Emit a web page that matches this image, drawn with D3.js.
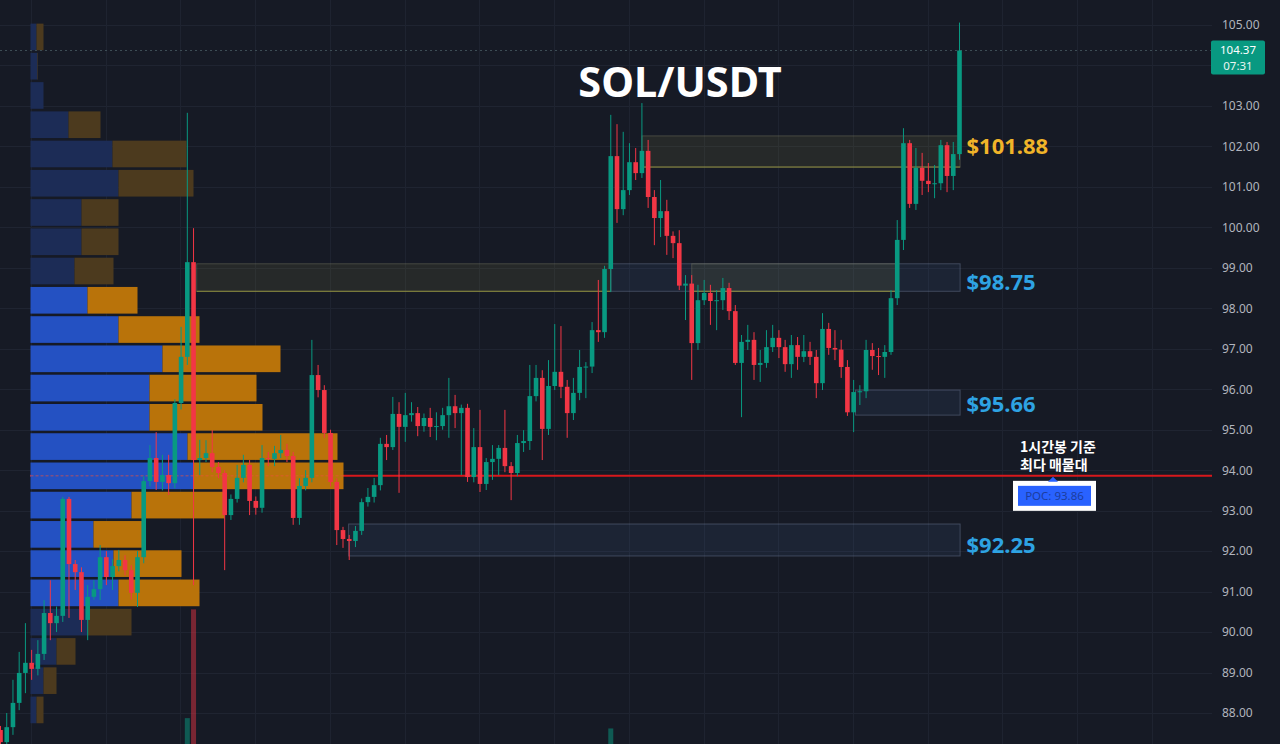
<!DOCTYPE html>
<html><head><meta charset="utf-8">
<script src="https://cdn.jsdelivr.net/npm/d3@7"></script>
<style>html,body{margin:0;padding:0;background:#161a25;overflow:hidden}svg{display:block}</style>
</head><body><svg id="c" width="1280" height="744"></svg>
<script>
// ---------- DATA ----------
const title = "SOL/USDT";
const opens = [87.58,87.28,87.65,88.25,88.99,89.24,89.09,89.46,90.47,90.22,90.40,93.29,91.68,91.48,90.30,90.87,91.06,91.85,91.36,91.63,91.78,91.53,90.97,91.85,93.73,94.30,93.71,93.88,93.68,95.66,96.80,99.14,94.25,94.30,94.42,94.08,93.93,92.89,93.29,93.81,94.13,93.24,93.07,94.30,94.28,94.42,94.50,94.35,92.82,93.61,93.81,96.35,95.98,94.92,93.71,92.52,92.30,92.25,92.50,93.21,93.34,93.63,94.65,94.57,95.39,95.07,95.36,95.41,95.09,95.29,95.07,95.09,95.36,95.58,95.41,95.54,93.83,94.57,93.66,94.20,94.28,94.55,94.10,93.93,94.67,94.72,95.83,96.28,95.02,96.08,96.43,96.06,95.41,95.91,96.55,96.56,97.46,97.41,98.97,101.76,100.45,100.92,101.61,101.34,101.89,100.75,100.23,100.40,99.79,99.61,98.56,98.61,97.14,98.20,98.38,98.18,98.20,98.50,97.93,96.65,97.17,97.22,96.60,96.65,97.04,97.27,97.04,96.62,97.09,96.80,96.94,96.80,96.15,97.49,97.02,96.98,96.55,95.43,95.93,95.95,96.97,96.82,96.80,96.92,98.25,99.69,102.08,100.58,101.47,101.15,101.07,101.09,102.03,101.27,101.81];
const highs = [87.68,88.00,88.82,89.51,90.22,89.56,89.80,90.79,91.28,90.63,93.34,93.34,91.78,91.60,91.16,91.28,92.15,92.00,91.80,92.03,91.90,91.65,92.00,93.85,94.62,94.94,94.38,94.38,95.75,97.54,102.83,99.98,94.75,94.74,94.99,94.20,94.00,93.40,94.13,94.38,94.25,93.35,94.62,94.45,94.60,94.87,94.65,94.45,93.80,94.00,97.22,96.60,96.10,95.00,93.80,92.60,92.40,92.62,93.30,93.56,93.81,94.80,94.87,95.81,95.68,95.91,95.68,95.56,95.40,95.54,95.43,95.54,96.28,95.86,95.62,95.64,95.04,95.49,94.30,94.62,94.62,95.49,94.20,94.87,94.99,96.60,96.60,96.47,96.72,97.61,97.56,96.23,96.28,96.97,96.67,97.66,98.70,99.05,102.78,102.55,102.36,102.08,101.96,103.07,102.16,100.92,101.17,100.68,99.90,99.93,98.82,98.82,98.58,98.70,98.58,98.45,98.75,98.63,98.08,97.34,97.59,97.41,96.97,97.46,97.59,97.46,97.22,97.34,97.29,97.34,97.17,96.97,97.88,97.64,97.46,97.22,96.72,96.23,96.10,97.22,97.14,97.02,97.09,98.45,100.18,102.45,102.16,101.96,101.84,101.59,101.54,102.16,102.11,102.11,105.06];
const lows = [87.23,87.20,87.46,88.07,88.49,88.82,88.93,89.31,89.80,90.00,90.25,90.35,91.04,90.00,89.80,90.80,90.79,91.16,91.04,91.50,91.40,90.80,90.62,91.70,93.60,93.51,93.50,93.39,93.55,95.50,96.60,91.16,93.88,94.20,93.95,93.80,91.53,92.77,93.20,93.70,92.89,92.90,92.95,94.10,94.10,94.30,94.20,92.65,92.65,93.50,93.70,95.80,94.80,93.60,92.15,92.08,91.78,92.10,92.40,93.10,93.20,93.50,94.25,94.50,93.44,94.70,95.20,94.84,94.95,94.82,94.74,95.00,94.80,95.04,93.88,93.71,93.70,93.46,93.51,93.76,93.88,93.95,93.26,93.85,94.45,94.50,95.70,94.25,94.87,95.98,95.78,94.80,95.24,95.73,95.78,96.40,97.17,97.27,98.40,100.11,100.30,100.80,101.17,101.22,100.48,99.56,99.76,99.32,99.24,98.45,97.71,96.23,96.97,98.08,97.59,97.46,97.96,97.71,96.60,95.31,96.97,96.23,96.18,96.53,96.92,96.77,96.43,96.28,96.48,96.67,96.60,95.78,95.98,96.85,96.72,96.28,95.34,94.94,95.61,95.78,96.48,96.35,96.28,96.85,98.08,99.44,100.48,100.43,100.80,100.87,100.72,100.92,100.87,100.92,101.67];
const closes = [87.28,87.65,88.25,88.99,89.24,89.09,89.46,90.47,90.22,90.40,93.29,91.68,91.48,90.30,90.87,91.06,91.85,91.36,91.63,91.78,91.53,90.97,91.85,93.73,94.30,93.71,93.88,93.68,95.66,96.80,99.14,94.25,94.30,94.42,94.08,93.93,92.89,93.29,93.81,94.13,93.24,93.07,94.30,94.28,94.42,94.50,94.35,92.82,93.61,93.81,96.35,95.98,94.92,93.71,92.52,92.30,92.25,92.50,93.21,93.34,93.63,94.65,94.57,95.39,95.07,95.36,95.41,95.09,95.29,95.07,95.09,95.36,95.58,95.41,95.54,93.83,94.57,93.66,94.20,94.28,94.55,94.10,93.93,94.67,94.72,95.83,96.28,95.02,96.08,96.43,96.06,95.41,95.91,96.55,96.56,97.46,97.41,98.97,101.76,100.45,100.92,101.61,101.34,101.89,100.75,100.23,100.40,99.79,99.61,98.56,98.61,97.14,98.20,98.38,98.18,98.20,98.50,97.93,96.65,97.17,97.22,96.60,96.65,97.04,97.27,97.04,96.62,97.09,96.80,96.94,96.80,96.15,97.49,97.02,96.98,96.55,95.43,95.93,95.95,96.97,96.82,96.80,96.92,98.25,99.69,102.08,100.58,101.47,101.15,101.07,101.09,102.03,101.27,101.81,104.37];

// visible volume spikes (candle index, volume K) - others lie below the frame
const volIndex = [30, 31, 98];
const volValue = [34, 150, 23];

// volume profile (top row first)
const pocPrice = 93.86;
const binSize = 0.723;
const profileUp   = [6,7,13,38,82,88,51,51,44,57,88,132,119,119,157,163,101,63,83,88,57,26,13,6];
const profileDown = [7,0.5,0,32,74,75,37,37,39,50,81,118,107,113,150,150,93,49,68,81,44,19,13,7];
const valueAreaHigh = 98.6, valueAreaLow = 90.6;

// price ticks
const priceTicks = [88,89,90,91,92,93,94,95,96,97,98,99,100,101,102,103,104,105];
const lastPrice = 104.37, countdown = "07:31";

// zones: start/end candle index, top/bottom price, style
const zoneFrom  = [31.5, 98, 111, 103, 137.3, 55.9];
const zoneTo    = [98, 154.1, 144, 154.1, 154.1, 154.1];
const zoneTop   = [99.10, 99.10, 99.10, 102.26, 95.98, 92.67];
const zoneBot   = [98.42, 98.42, 98.42, 101.49, 95.36, 91.88];
const zoneKind  = ["olive","blue","olive","olive","blue","blue"];

const levelLabels = ["$101.88","$98.75","$95.66","$92.25"];
const levelPrice  = [102.03, 98.67, 95.66, 92.18];
const levelColor  = ["#f0b429","#2ea3e3","#2ea3e3","#2ea3e3"];

const noteLines = ["1시간봉 기준","최다 매물대"];
const pocLabel = "POC: 93.86";
const timeGrid = [4.9,16.9,28.9,40.9,52.9,64.9,76.9,88.9,100.9,112.9,124.9,136.9,148.9,160.9,172.9,184.9];

// ---------- CHART ----------
const svg = d3.select("#c");
const plotRight = 1212;
const y = d3.scaleLinear().domain([88,105]).range([713,25]);
const x = d3.scaleLinear().domain([0,154]).range([0.5,959.5]);
const bodyW = 4.6;

svg.append("rect").attr("width",1280).attr("height",744).attr("fill","#161a25");

// grid
const g = svg.append("g");
g.selectAll("line.h").data(priceTicks).join("line")
  .attr("x1",0).attr("x2",plotRight)
  .attr("y1",d=>Math.round(y(d))+0.5).attr("y2",d=>Math.round(y(d))+0.5)
  .attr("stroke","#1f2431").attr("stroke-width",1);
g.selectAll("line.v").data(timeGrid).join("line")
  .attr("x1",d=>Math.round(x(d))+0.5).attr("x2",d=>Math.round(x(d))+0.5)
  .attr("y1",0).attr("y2",744)
  .attr("stroke","#1e2330").attr("stroke-width",1);

// zones
const zones = zoneFrom.map((f,i)=>({f,t:zoneTo[i],top:zoneTop[i],bot:zoneBot[i],k:zoneKind[i]}));
const zg = svg.append("g");
zones.forEach(z=>{
  const x0=x(z.f), x1=x(z.t), y0=y(z.top), y1=y(z.bot);
  if(z.k==="olive"){
    zg.append("rect").attr("x",x0).attr("y",y0).attr("width",x1-x0).attr("height",y1-y0)
      .attr("fill","rgba(150,150,70,0.13)").attr("stroke","rgba(120,120,100,0.45)").attr("stroke-width",1);
    zg.append("line").attr("x1",x0).attr("x2",x1).attr("y1",y1).attr("y2",y1)
      .attr("stroke","#8a8a3c").attr("stroke-width",1);
  } else {
    zg.append("rect").attr("x",x0).attr("y",y0).attr("width",x1-x0).attr("height",y1-y0)
      .attr("fill","rgba(70,100,150,0.14)").attr("stroke","rgba(110,125,150,0.45)").attr("stroke-width",1);
  }
});

// POC line (under the profile)
svg.append("line").attr("x1",30).attr("x2",plotRight)
  .attr("y1",y(pocPrice)).attr("y2",y(pocPrice))
  .attr("stroke","#d8181c").attr("stroke-width",2);

// volume profile
const vx = d3.scaleLinear().domain([0,313]).range([0,313]);
const px0 = 30.5;
const rows = profileUp.map((u,i)=>{
  const c = pocPrice + (15-i)*binSize;
  return {u, d:profileDown[i], c, va: c<=valueAreaHigh && c>=valueAreaLow};
});
const pg = svg.append("g");
rows.forEach(r=>{
  const yt = y(r.c+binSize/2)+1.3, yb = y(r.c-binSize/2)-1.3;
  pg.append("rect").attr("x",px0).attr("y",yt).attr("width",vx(r.u)).attr("height",yb-yt)
    .attr("fill", r.va? "#2451c2":"#1c2c56");
  pg.append("rect").attr("x",px0+vx(r.u)).attr("y",yt).attr("width",vx(r.d)).attr("height",yb-yt)
    .attr("fill", r.va? "#b9730a":"#4c3a1e");
});
// faint POC line through profile
const pocRow = rows[15];
svg.append("line").attr("x1",px0).attr("x2",px0+vx(pocRow.u+pocRow.d))
  .attr("y1",y(pocPrice)).attr("y2",y(pocPrice))
  .attr("stroke","rgba(240,80,60,0.45)").attr("stroke-width",1.5).attr("stroke-dasharray","3,2");

// volume bars
const vy = d3.scaleLinear().domain([0,160]).range([750,600]);
svg.append("g").selectAll("rect").data(volIndex.map((i,k)=>({i,v:volValue[k]}))).join("rect")
  .attr("x",d=>x(d.i)-2.5).attr("width",5)
  .attr("y",d=>vy(d.v)).attr("height",d=>750-vy(d.v))
  .attr("fill",d=>closes[d.i]>=opens[d.i]?"rgba(8,153,129,0.5)":"rgba(242,54,69,0.45)");

// current price dotted line
svg.append("line").attr("x1",0).attr("x2",plotRight)
  .attr("y1",Math.round(y(lastPrice))+0.5).attr("y2",Math.round(y(lastPrice))+0.5)
  .attr("stroke","#3d4d55").attr("stroke-width",1).attr("stroke-dasharray","2,3");

// candles
const candles = opens.map((o,i)=>({i,o,h:highs[i],l:lows[i],c:closes[i]}));
const cg = svg.append("g");
const col = d=> d.c>=d.o ? "#089981" : "#f23645";
cg.selectAll("line").data(candles).join("line")
  .attr("x1",d=>x(d.i)).attr("x2",d=>x(d.i))
  .attr("y1",d=>y(d.h)).attr("y2",d=>y(d.l))
  .attr("stroke",col).attr("stroke-width",1);
cg.selectAll("rect").data(candles).join("rect")
  .attr("x",d=>x(d.i)-bodyW/2).attr("width",bodyW)
  .attr("y",d=>y(Math.max(d.o,d.c)))
  .attr("height",d=>Math.max(1,Math.abs(y(d.o)-y(d.c))))
  .attr("fill",col);

// level labels
svg.append("g").selectAll("text").data(levelLabels).join("text")
  .attr("x",x(154)+7).attr("y",(d,i)=>y(levelPrice[i]))
  .attr("dominant-baseline","central")
  .attr("font-family","'Noto Sans', 'Open Sans', sans-serif").attr("font-weight",700).attr("font-size",22)
  .attr("fill",(d,i)=>levelColor[i]).text(d=>d);

// price axis (the tick hidden under the last-price tag is not labelled)
const ly = y(lastPrice);
const shownTicks = priceTicks.filter(t => Math.abs(y(t) - (ly + 7)) > 22);
const axis = d3.axisRight(y).tickValues(shownTicks).tickFormat(d3.format(".2f")).tickSize(0).tickPadding(10);
const ag = svg.append("g").attr("transform",`translate(${plotRight},0)`).call(axis);
ag.select(".domain").remove();
ag.selectAll("text").attr("fill","#b2b5be").attr("font-size",12).attr("font-family","'Noto Sans', sans-serif");

// last price tag
svg.append("rect").attr("x",1211).attr("y",ly-10).attr("width",54).attr("height",34).attr("rx",2).attr("fill","#089981");
svg.append("text").attr("x",1238).attr("y",ly+4).attr("text-anchor","middle")
  .attr("fill","#ffffff").attr("font-size",11.5).attr("font-family","'Noto Sans', sans-serif").text(d3.format(".2f")(lastPrice));
svg.append("text").attr("x",1238).attr("y",ly+20).attr("text-anchor","middle")
  .attr("fill","#e8f5f2").attr("font-size",11.5).attr("font-family","'Noto Sans', sans-serif").text(countdown);

// title
svg.append("text").attr("x",680).attr("y",97).attr("text-anchor","middle")
  .attr("fill","#ffffff").attr("font-size",41.5).attr("font-weight",700)
  .attr("font-family","'Noto Sans', 'Open Sans', sans-serif").text(title);

// annotation
const py = y(pocPrice);
svg.append("g").selectAll("text").data(noteLines).join("text")
  .attr("x",1020).attr("y",(d,i)=>py-24+i*18)
  .attr("fill","#ffffff").attr("font-size",14).attr("font-weight",700)
  .attr("font-family","'Noto Sans CJK KR', sans-serif").text(d=>d);
svg.append("rect").attr("x",1013).attr("y",py+5).attr("width",83).attr("height",30).attr("fill","#ffffff");
svg.append("rect").attr("x",1018).attr("y",py+10).attr("width",73).attr("height",20).attr("fill","#2962ff");
svg.append("path").attr("d",`M1048,${py+6} L1058,${py+6} L1053,${py+1} Z`).attr("fill","#2962ff");
svg.append("text").attr("x",1054.5).attr("y",py+20).attr("text-anchor","middle").attr("dominant-baseline","central")
  .attr("fill","#1c3d9e").attr("font-size",11.5).attr("font-family","'Noto Sans', sans-serif").text(pocLabel);
</script>
</body></html>
